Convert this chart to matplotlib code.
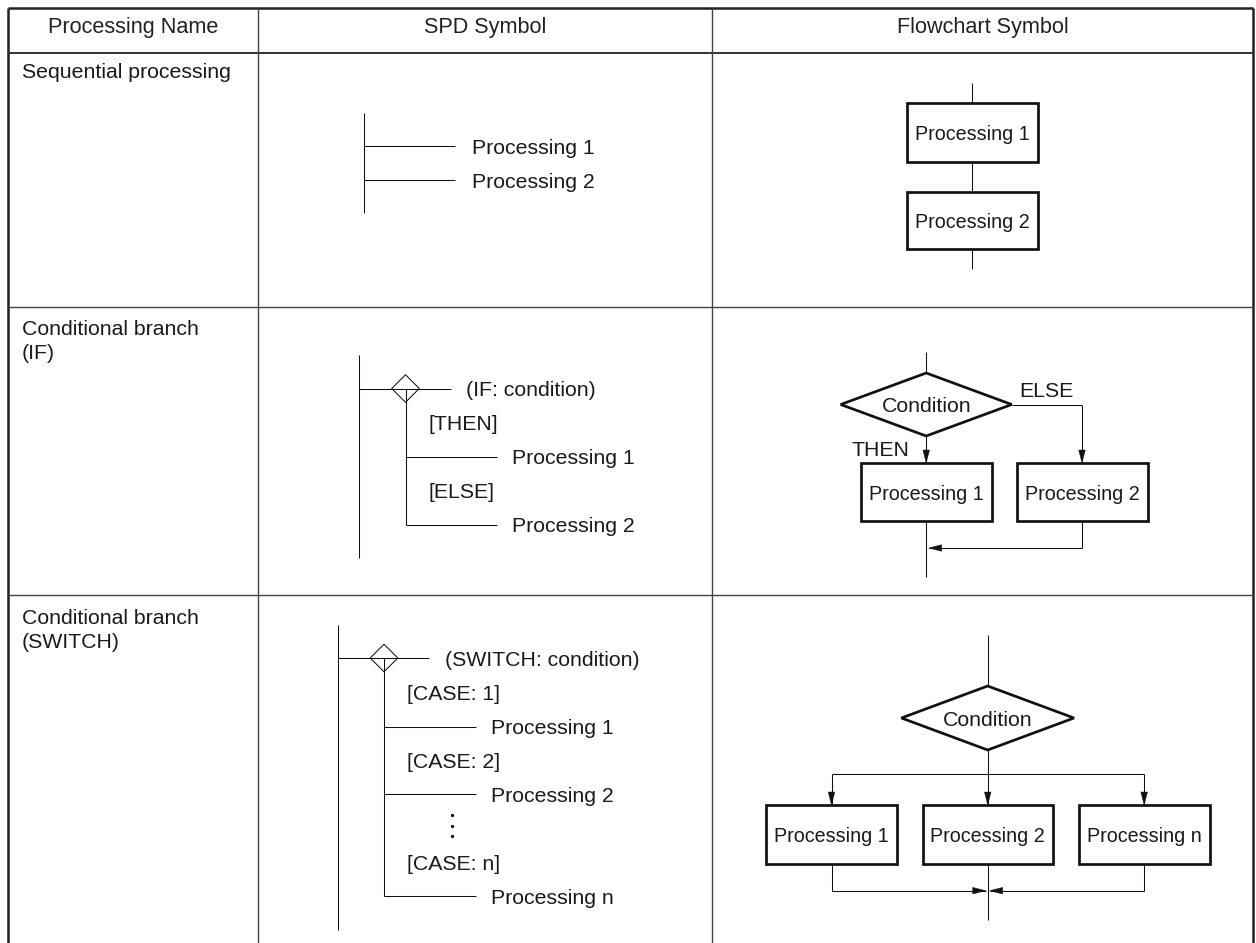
import matplotlib.pyplot as plt
from matplotlib import font_manager
from matplotlib.patches import Rectangle, Polygon

# fonts
names = set(f.name for f in font_manager.fontManager.ttflist)
FONT = 'Liberation Sans' if 'Liberation Sans' in names else 'DejaVu Sans'
NARROW = 'Liberation Sans Narrow' if 'Liberation Sans Narrow' in names else FONT
BOX_SIZE = 15.5 if NARROW != FONT else 14.2
plt.rcParams['font.family'] = [FONT, 'DejaVu Sans']

# table text
headers = ['Processing Name', 'SPD Symbol', 'Flowchart Symbol']
row_names = [['Sequential processing'],
             ['Conditional branch', '(IF)'],
             ['Conditional branch', '(SWITCH)']]

# SPD labels
seq_items = ['Processing 1', 'Processing 2']
if_cond = '(IF: condition)'
if_tags = ['[THEN]', '[ELSE]']
if_items = ['Processing 1', 'Processing 2']
sw_cond = '(SWITCH: condition)'
sw_tags = ['[CASE: 1]', '[CASE: 2]', '[CASE: n]']
sw_items = ['Processing 1', 'Processing 2', 'Processing n']

# flowchart labels
fc_seq = ['Processing 1', 'Processing 2']
fc_if = ['Processing 1', 'Processing 2']
fc_sw = ['Processing 1', 'Processing 2', 'Processing n']
cond_label = 'Condition'

# layout (pixels)
col_x = [8, 258, 712, 1253]
row_y = [8, 53, 307, 595]
FS = 15.3
TXT = '#1a1a1a'
LN = '#111111'
THIN = 0.75
BOXW = 1.95

fig = plt.figure(figsize=(12.56, 9.43), dpi=100)
ax = fig.add_axes([0, 0, 1, 1])
ax.set_xlim(0, 1256)
ax.set_ylim(943, 0)
ax.axis('off')


def line(xs, ys, lw=THIN, c=LN):
    ax.plot(xs, ys, color=c, lw=lw, solid_capstyle='butt', solid_joinstyle='miter')


def arrow(x0, y0, x1, y1, hl=13, hw=3.3):
    line([x0, x1], [y0, y1])
    dx, dy = x1 - x0, y1 - y0
    n = (dx ** 2 + dy ** 2) ** 0.5
    ux, uy = dx / n, dy / n
    bx, by = x1 - ux * hl, y1 - uy * hl
    px, py = -uy * hw, ux * hw
    ax.add_patch(Polygon([[x1, y1], [bx + px, by + py], [bx - px, by - py]],
                         closed=True, fc=LN, ec=LN, lw=0.3))


def box(x0, x1, y0, y1, label):
    ax.add_patch(Rectangle((x0, y0), x1 - x0, y1 - y0, fill=False, ec=LN, lw=BOXW,
                           joinstyle='miter'))
    ax.text((x0 + x1) / 2, (y0 + y1) / 2 + 7.5, label, ha='center', va='baseline',
            fontsize=BOX_SIZE, color=TXT, family=[NARROW, 'DejaVu Sans'])


def diamond(cx, cy, hw, hh, lw, label=None):
    ax.add_patch(Polygon([[cx - hw, cy], [cx, cy - hh], [cx + hw, cy], [cx, cy + hh]],
                         closed=True, fill=False, ec=LN, lw=lw, joinstyle='miter'))
    if label:
        ax.text(cx, cy + 7.5, label, ha='center', va='baseline', fontsize=FS, color=TXT)


def txt(x, y, s, ha='left'):
    ax.text(x, y, s, ha=ha, va='baseline', fontsize=FS, color=TXT)


# ---- table grid
line([col_x[0], col_x[-1]], [row_y[0], row_y[0]], lw=1.8, c='#222222')
line([col_x[0], col_x[0]], [row_y[0], 943], lw=1.8, c='#222222')
line([col_x[-1], col_x[-1]], [row_y[0], 943], lw=1.8, c='#222222')
line([col_x[0], col_x[-1]], [row_y[1], row_y[1]], lw=1.4, c='#333333')
for y in row_y[2:]:
    line([col_x[0], col_x[-1]], [y, y], lw=1.0, c='#444444')
for x in col_x[1:-1]:
    line([x, x], [row_y[0], 943], lw=1.0, c='#444444')

for i, h in enumerate(headers):
    ax.text((col_x[i] + col_x[i + 1]) / 2, 33.5, h, ha='center', va='baseline',
            fontsize=15.6, color='#222222')

name_base = [[77.5], [335, 359], [624, 648]]
for names_, ys in zip(row_names, name_base):
    for s, y in zip(names_, ys):
        txt(22, y, s)

# ---- SPD: sequential
line([364, 364], [113, 213])
for y, s in zip([146, 180], seq_items):
    line([364, 455], [y, y])
    txt(472, y + 7.5, s)

# ---- SPD: IF
line([359, 359], [355, 558])
line([359, 451], [388.5, 388.5])
diamond(405.5, 388.5, 13.8, 13.8, THIN)
line([405.5, 405.5], [388.5, 525])
txt(466, 396, if_cond)
for y, tag, s in zip([457, 525], if_tags, if_items):
    txt(428, y - 27.5, tag)
    line([405.5, 497], [y, y])
    txt(512, y + 7.5, s)

# ---- SPD: SWITCH
line([338, 338], [625, 930])
line([338, 429], [658, 658])
diamond(384, 658, 13.8, 13.8, THIN)
line([384, 384], [658, 896])
txt(445, 665.5, sw_cond)
for y, tag_y, tag, s in zip([727, 794, 896], [700.5, 768.5, 870], sw_tags, sw_items):
    txt(407, tag_y, tag)
    line([384, 476], [y, y])
    txt(491, y + 7.5, s)
ax.plot([452, 452, 452], [815, 825.5, 836], 'o', ms=2.4, color=LN, mew=0)

# ---- Flowchart: sequential
cx = 972.3
line([cx, cx], [83, 103])
box(907, 1038, 103, 162, fc_seq[0])
line([cx, cx], [162, 192])
box(907, 1038, 192, 249, fc_seq[1])
line([cx, cx], [249, 269])

# ---- Flowchart: IF
cx = 926.2
line([cx, cx], [352, 373])
diamond(cx, 404.5, 85.5, 31.5, BOXW, cond_label)
arrow(cx, 436, cx, 463)
line([1012, 1082], [404.5, 404.5])
arrow(1082, 404.5, 1082, 463)
txt(1019, 397, 'ELSE')
txt(909, 456, 'THEN', ha='right')
box(861, 991.5, 463, 521, fc_if[0])
box(1016.7, 1147.5, 463, 521, fc_if[1])
line([cx, cx], [521, 577])
line([1082, 1082], [521, 548])
arrow(1082, 548, cx + 2.5, 548)

# ---- Flowchart: SWITCH
cx = 987.7
line([cx, cx], [635, 686])
diamond(cx, 718, 86.3, 32, BOXW, cond_label)
line([cx, cx], [750, 774])
bx = [(766, 897), (922.7, 1052.8), (1078.7, 1209.6)]
centers = [(a + b) / 2 for a, b in bx]
line([centers[0], centers[-1]], [774, 774])
for (a, b), c, s in zip(bx, centers, fc_sw):
    arrow(c, 774, c, 805)
    box(a, b, 805, 864, s)
line([centers[0], centers[0]], [864, 890.7])
arrow(centers[0], 890.7, cx - 2, 890.7)
line([centers[-1], centers[-1]], [864, 890.7])
arrow(centers[-1], 890.7, cx + 2, 890.7)
line([cx, cx], [864, 920])

fig.savefig('out.png', dpi=100)
